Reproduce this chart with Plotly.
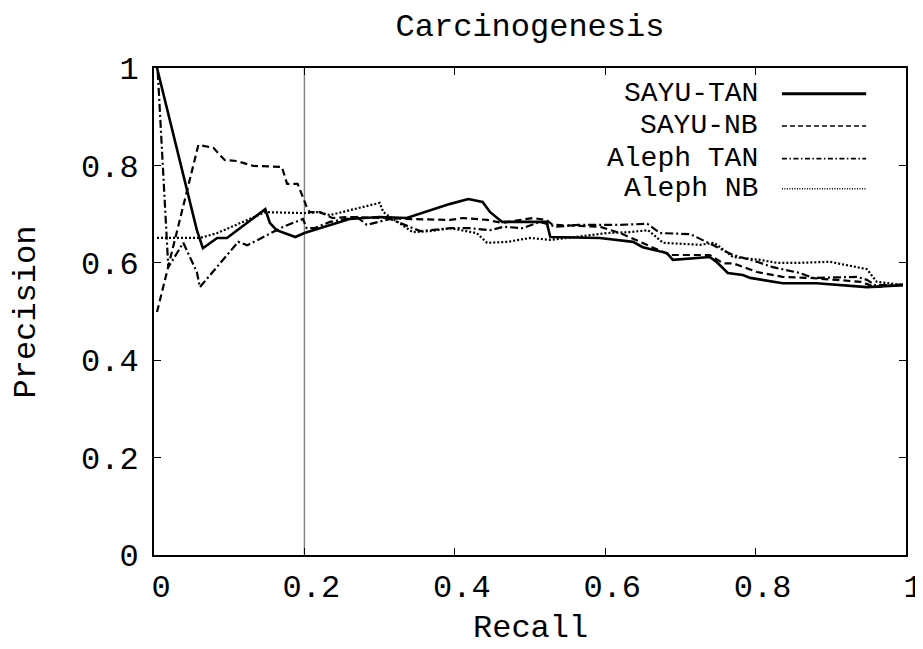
import plotly.graph_objects as go

# ---- data ----
sayu_tan_recall = [0.004, 0.057, 0.065, 0.084, 0.097, 0.148, 0.154, 0.163, 0.188, 0.200, 0.26, 0.30,
                   0.336, 0.394, 0.418, 0.437, 0.447, 0.463, 0.522, 0.527, 0.593, 0.637, 0.650, 0.682,
                   0.690, 0.739, 0.748, 0.763, 0.783, 0.793, 0.836, 0.881, 0.948, 0.996]
sayu_tan_precision = [1.0, 0.667, 0.630, 0.651, 0.651, 0.710, 0.682, 0.667, 0.653, 0.661, 0.690, 0.694,
                      0.692, 0.721, 0.731, 0.725, 0.704, 0.684, 0.684, 0.653, 0.651, 0.643, 0.632, 0.620,
                      0.606, 0.612, 0.602, 0.579, 0.575, 0.569, 0.558, 0.558, 0.550, 0.554]

sayu_nb_recall = [0.004, 0.059, 0.079, 0.094, 0.110, 0.132, 0.170, 0.177, 0.191, 0.203, 0.207, 0.221,
                  0.237, 0.26, 0.31, 0.336, 0.394, 0.411, 0.443, 0.463, 0.504, 0.522, 0.530, 0.593,
                  0.620, 0.637, 0.664, 0.686, 0.700, 0.739, 0.757, 0.770, 0.802, 0.836, 0.872, 0.926,
                  0.940, 0.959, 0.996]
sayu_nb_precision = [0.499, 0.842, 0.836, 0.811, 0.809, 0.799, 0.797, 0.762, 0.762, 0.715, 0.704, 0.704,
                     0.692, 0.694, 0.692, 0.690, 0.688, 0.692, 0.688, 0.682, 0.692, 0.688, 0.678, 0.674,
                     0.661, 0.649, 0.630, 0.616, 0.616, 0.616, 0.599, 0.599, 0.581, 0.571, 0.569, 0.563,
                     0.561, 0.550, 0.556]

aleph_tan_recall = [0.005, 0.019, 0.039, 0.057, 0.061, 0.084, 0.112, 0.124, 0.150, 0.172, 0.198, 0.203,
                    0.213, 0.234, 0.270, 0.283, 0.314, 0.354, 0.394, 0.420, 0.447, 0.465, 0.490, 0.513,
                    0.535, 0.565, 0.620, 0.656, 0.673, 0.713, 0.749, 0.770, 0.802, 0.823, 0.859, 0.876,
                    0.935, 0.948, 0.959, 0.996]
aleph_tan_precision = [0.992, 0.591, 0.641, 0.581, 0.550, 0.591, 0.643, 0.636, 0.657, 0.674, 0.690, 0.671,
                       0.671, 0.684, 0.694, 0.678, 0.690, 0.665, 0.671, 0.671, 0.667, 0.674, 0.671, 0.684,
                       0.674, 0.678, 0.678, 0.680, 0.661, 0.659, 0.632, 0.616, 0.602, 0.591, 0.579, 0.569,
                       0.571, 0.565, 0.554, 0.554]

aleph_nb_recall = [0.004, 0.061, 0.084, 0.148, 0.200, 0.217, 0.234, 0.270, 0.300, 0.305, 0.314, 0.344,
                   0.367, 0.394, 0.429, 0.443, 0.470, 0.500, 0.527, 0.602, 0.633, 0.657, 0.677, 0.726,
                   0.745, 0.770, 0.806, 0.828, 0.859, 0.899, 0.939, 0.948, 0.961, 0.996]
aleph_nb_precision = [0.651, 0.651, 0.661, 0.704, 0.702, 0.704, 0.698, 0.712, 0.723, 0.704, 0.694, 0.663,
                      0.665, 0.671, 0.661, 0.641, 0.643, 0.651, 0.647, 0.661, 0.663, 0.667, 0.641, 0.637,
                      0.641, 0.612, 0.606, 0.600, 0.600, 0.602, 0.589, 0.587, 0.561, 0.554]

series_names = ["SAYU-TAN", "SAYU-NB", "Aleph TAN", "Aleph NB"]
x_ticks = [0, 0.2, 0.4, 0.6, 0.8, 1]
y_ticks = [0, 0.2, 0.4, 0.6, 0.8, 1]
marker_recall = 0.2

# ---- styles ----
FONT = "Liberation Mono, Courier New, monospace"
FS = 32
LEG_FS = 28
plot_styles = [
    dict(width=2.6, dash="solid"),
    dict(width=2.2, dash="7px,4px"),
    dict(width=2.2, dash="8px,3px,2px,3px"),
    dict(width=2.2, dash="2px,2px"),
]
legend_styles = [
    dict(width=3, dash="solid"),
    dict(width=1.6, dash="5px,3px"),
    dict(width=1.6, dash="5px,2.5px,1.5px,2.5px"),
    dict(width=1.4, dash="1px,1.5px"),
]
data = [
    (sayu_tan_recall, sayu_tan_precision),
    (sayu_nb_recall, sayu_nb_precision),
    (aleph_tan_recall, aleph_tan_precision),
    (aleph_nb_recall, aleph_nb_precision),
]

fig = go.Figure()
for name, (xs, ys), st in zip(series_names, data, plot_styles):
    fig.add_trace(go.Scatter(x=xs, y=ys, mode="lines", name=name,
                             line=dict(color="black", width=st["width"], dash=st["dash"]),
                             showlegend=False))

# vertical reference line at recall 0.2
fig.add_shape(type="line", x0=marker_recall, x1=marker_recall, xref="x", y0=0, y1=1, yref="paper",
              line=dict(color="#808080", width=1.4), layer="below")

# manual legend (text to the left of the line sample, like the reference)
leg_rows = [0.947, 0.881, 0.814, 0.752]
for name, st, yy in zip(series_names, legend_styles, leg_rows):
    fig.add_annotation(text=name, x=0.806, y=yy, xref="paper", yref="paper",
                       xanchor="right", yanchor="middle", showarrow=False,
                       font=dict(family=FONT, size=LEG_FS, color="black"))
    fig.add_shape(type="line", x0=0.835, x1=0.947, y0=yy, y1=yy, xref="paper", yref="paper",
                  line=dict(color="black", width=st["width"], dash=st["dash"]))

# axis titles
fig.add_annotation(text="Recall", x=0.5, y=-0.15, xref="paper", yref="paper",
                   xanchor="center", yanchor="middle", showarrow=False,
                   font=dict(family=FONT, size=FS, color="black"))
fig.add_annotation(text="Precision", x=-0.169, y=0.5, xref="paper", yref="paper",
                   xanchor="center", yanchor="middle", showarrow=False, textangle=-90,
                   font=dict(family=FONT, size=FS, color="black"))

axis_common = dict(showgrid=False, zeroline=False, showline=True, linecolor="black", linewidth=2,
                   mirror="ticks", ticks="inside", ticklen=7, tickcolor="black", tickwidth=1,
                   automargin=False,
                   tickfont=dict(family=FONT, size=FS, color="black"))

# the page places the figure 8px from the top-left corner, so the figure is 8px smaller
fig.update_layout(
    width=915, height=641,
    margin=dict(l=146, r=17, t=60, b=94, autoexpand=False),
    paper_bgcolor="white", plot_bgcolor="white",
    title=dict(text="Carcinogenesis", x=0.5, xref="paper", y=1 - 6 / 641, yref="container",
               xanchor="center", yanchor="top", pad=dict(t=0, b=0),
               font=dict(family=FONT, size=FS, color="black")),
    xaxis=dict(range=[0, 1], tickvals=x_ticks, ticktext=[str(t) for t in x_ticks],
               ticklabelshift=7, ticklabelstandoff=2, **axis_common),
    yaxis=dict(range=[0, 1], tickvals=y_ticks, ticktext=[str(t) for t in y_ticks],
               ticklabelstandoff=7, **axis_common),
    showlegend=False,
)

fig.write_html("out.html")
